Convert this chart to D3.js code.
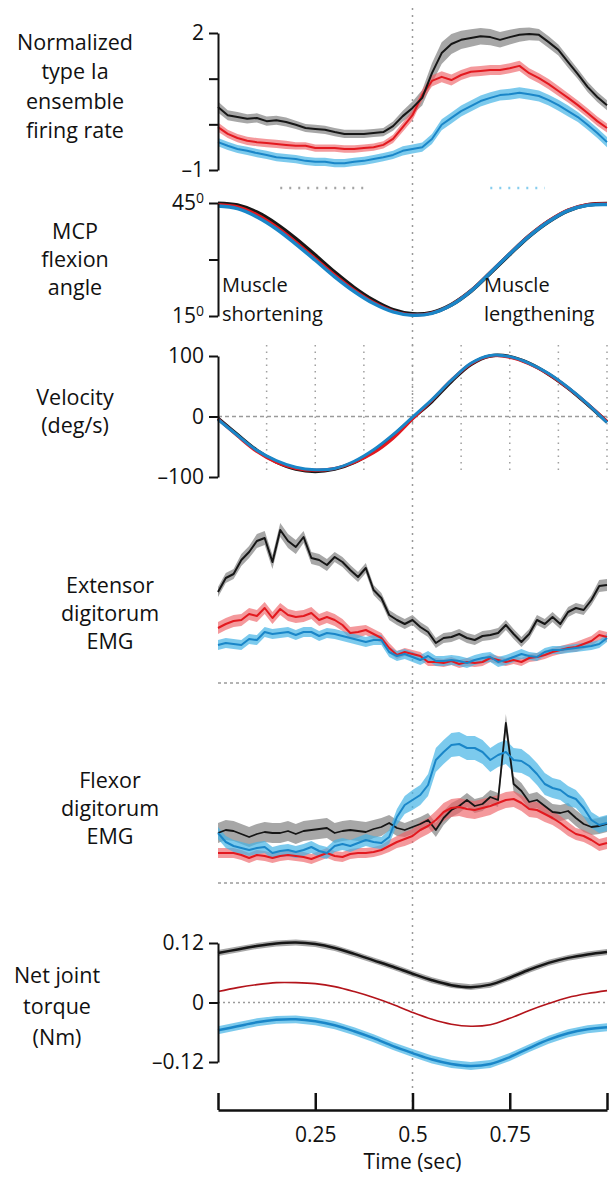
<!DOCTYPE html>
<html>
<head>
<meta charset="utf-8">
<script src="https://cdnjs.cloudflare.com/ajax/libs/d3/7.8.5/d3.min.js"></script>
<style>
  body { margin: 0; background: #fff; }
  text { font-family: "Open Sans", sans-serif; fill: #111; }
</style>
</head>
<body>
<script>
// ---------- data (time runs 0..1 s, samples evenly spaced) ----------
var frStep = 0.025;   // firing rate, 41 samples
var frBlack = [0.38,0.20,0.16,0.12,0.14,0.07,0.09,0.05,-0.01,-0.08,-0.10,-0.12,-0.17,-0.21,-0.21,-0.21,-0.19,-0.17,-0.04,0.18,0.36,0.58,1.12,1.56,1.76,1.85,1.89,1.93,1.91,1.85,1.91,1.96,1.98,1.96,1.80,1.63,1.36,1.10,0.82,0.60,0.42];
var frRed = [-0.06,-0.21,-0.30,-0.36,-0.39,-0.41,-0.43,-0.45,-0.47,-0.47,-0.52,-0.52,-0.52,-0.54,-0.54,-0.52,-0.50,-0.45,-0.32,-0.06,0.20,0.64,0.95,1.04,0.97,1.08,1.15,1.17,1.19,1.19,1.23,1.28,1.12,1.01,0.88,0.73,0.58,0.42,0.25,0.07,-0.08];
var frBlue = [-0.39,-0.47,-0.54,-0.58,-0.63,-0.67,-0.72,-0.74,-0.76,-0.80,-0.82,-0.82,-0.85,-0.85,-0.82,-0.80,-0.76,-0.72,-0.67,-0.58,-0.54,-0.50,-0.32,-0.01,0.14,0.29,0.40,0.51,0.58,0.64,0.66,0.69,0.66,0.62,0.53,0.42,0.29,0.16,-0.01,-0.19,-0.39];
var frBlackSem = [0.12,0.11,0.11,0.10,0.10,0.10,0.10,0.10,0.09,0.09,0.09,0.09,0.09,0.09,0.09,0.09,0.09,0.09,0.10,0.12,0.14,0.17,0.22,0.24,0.22,0.20,0.19,0.18,0.18,0.17,0.16,0.15,0.14,0.13,0.13,0.12,0.12,0.11,0.11,0.11,0.11];
var frRedSem = [0.10,0.09,0.09,0.09,0.09,0.09,0.09,0.09,0.08,0.08,0.08,0.08,0.08,0.08,0.08,0.08,0.08,0.08,0.09,0.10,0.11,0.12,0.12,0.12,0.12,0.11,0.11,0.11,0.11,0.11,0.11,0.11,0.11,0.11,0.11,0.11,0.10,0.10,0.10,0.10,0.10];
var frBlueSem = [0.09,0.09,0.09,0.09,0.09,0.09,0.09,0.09,0.09,0.09,0.09,0.09,0.09,0.09,0.09,0.09,0.09,0.09,0.09,0.10,0.10,0.10,0.11,0.12,0.12,0.12,0.12,0.12,0.12,0.12,0.12,0.12,0.12,0.12,0.12,0.12,0.12,0.11,0.11,0.11,0.11];
var sigBlack = [0.16, 0.39];
var sigBlue = [0.70, 0.84];

var kinStep = 0.05;   // angle, velocity, torque, 21 samples
var angBlack = [44.9,44.4,42.5,39.4,35.5,31.1,26.6,22.5,19.1,16.6,15.5,15.9,18.0,21.6,26.4,31.4,36.2,40.1,43.0,44.5,44.8];
var angRed = [44.6,44.0,41.9,38.7,34.7,30.3,25.9,21.9,18.6,16.3,15.3,15.8,18.0,21.7,26.6,31.6,36.4,40.3,43.2,44.6,44.8];
var angBlue = [44.2,43.5,41.3,38.1,34.1,29.8,25.4,21.5,18.3,16.1,15.2,15.7,17.9,21.6,26.5,31.5,36.2,40.1,43.0,44.4,44.6];

var velBlack = [-3,-30,-56,-75,-87,-91,-87,-76,-57,-32,-3,25,58,86,100,99,88,70,47,20,-9];
var velRed = [-4,-32,-58,-76,-86,-89,-86,-76,-60,-36,-4,27,60,87,100,98,87,70,47,21,-8];
var velBlue = [-5,-31,-56,-73,-84,-88,-86,-74,-55,-30,-1,28,60,88,101,99,88,71,48,21,-10];
var velGridT = [0.125,0.25,0.375,0.5,0.625,0.75,0.875,1];

var emgStep = 0.02;   // EMG, 51 samples, arbitrary units
var extBlack = [91,105,109,123,131,142,145,121,153,142,136,146,125,123,118,126,121,113,106,115,93,85,68,63,59,63,56,51,40,45,46,49,45,43,47,48,50,58,49,41,49,63,59,66,59,71,75,73,83,97,98];
var extRed = [55,59,62,63,69,67,75,65,74,68,66,67,70,63,66,63,58,50,51,53,49,45,35,28,31,29,27,21,21,20,22,19,21,20,21,25,23,21,23,21,25,26,28,31,33,35,36,39,42,48,46];
var extBlue = [38,40,39,38,44,43,51,49,50,51,48,51,51,47,50,49,47,45,43,41,43,43,31,27,29,26,23,27,22,22,23,22,20,23,25,26,21,23,26,29,27,26,31,33,33,34,35,36,37,39,45];
var extBlackSem = [5,5,5,6,6,7,7,7,7,7,7,6,6,6,6,5,5,5,5,5,5,5,5,5,5,5,5,5,5,5,5,5,5,5,5,5,5,5,5,5,5,5,5,5,5,5,5,5,5,6,6];
var extRedSem = [6,6,6,6,6,6,6,6,6,6,6,6,6,6,6,6,6,6,6,5,5,5,5,4,4,4,4,4,4,4,4,4,4,4,4,4,4,4,4,4,4,4,4,4,4,4,5,5,5,5,5];
var extBlueSem = [5,5,5,5,5,5,5,5,5,5,5,5,5,5,5,5,5,5,5,5,5,5,5,5,5,5,5,5,5,5,5,5,5,5,5,5,5,5,5,5,4,4,4,4,4,4,4,4,4,4,4];

var flxBlack = [50,53,52,49,46,49,51,50,50,52,49,52,53,54,55,50,52,53,52,51,54,56,60,55,53,56,59,63,53,65,73,77,83,77,79,86,83,160,99,92,81,83,77,71,70,72,65,59,56,57,59];
var flxRed = [30,30,30,28,25,28,27,25,27,28,27,26,24,27,30,27,26,29,30,30,31,33,37,41,44,47,53,57,63,71,75,76,74,73,75,77,80,83,84,80,74,73,69,65,60,54,49,47,43,38,40];
var flxBlue = [50,41,37,35,33,35,36,30,32,33,31,33,36,32,30,37,39,37,40,43,41,40,46,66,78,83,88,98,123,131,138,139,135,135,131,123,128,131,123,122,117,109,99,95,93,87,84,75,63,58,60];
var flxBlackSem = [10,10,10,10,10,10,10,10,10,10,10,10,10,10,10,10,10,10,10,10,9,9,8,8,7,7,7,7,7,7,7,7,7,7,7,7,7,9,8,8,8,8,8,8,8,8,8,8,8,8,8];
var flxRedSem = [5,5,5,5,5,5,5,5,5,5,5,5,5,5,5,5,5,5,5,5,5,5,6,6,7,7,8,8,9,9,9,9,9,9,9,9,8,8,8,8,8,8,8,7,7,7,6,6,6,6,6];
var flxBlueSem = [6,6,6,6,6,6,6,6,6,6,6,6,6,6,6,6,6,6,6,6,6,6,7,8,9,10,10,11,12,12,12,12,12,12,12,12,12,12,12,12,11,11,11,10,10,10,9,9,8,8,8];

var trqBlack = [0.100,0.107,0.114,0.119,0.121,0.118,0.110,0.098,0.085,0.072,0.058,0.045,0.035,0.031,0.036,0.050,0.066,0.080,0.090,0.097,0.102];
var trqRed = [0.022,0.030,0.036,0.040,0.040,0.038,0.032,0.022,0.010,-0.004,-0.020,-0.034,-0.044,-0.048,-0.045,-0.032,-0.016,-0.002,0.010,0.018,0.024];
var trqBlue = [-0.056,-0.048,-0.040,-0.035,-0.034,-0.038,-0.046,-0.058,-0.072,-0.088,-0.102,-0.115,-0.124,-0.128,-0.124,-0.110,-0.092,-0.075,-0.062,-0.054,-0.050];
var trqSem = { black: 0.006, red: 0.002, blue: 0.008 };

var xTicks = [0, 0.25, 0.5, 0.75, 1];

// ---------- setup ----------
var W = 611, H = 1178;
var svg = d3.select("body").append("svg").attr("width", W).attr("height", H);

var x = d3.scaleLinear().domain([0, 1]).range([218, 607]);

var yFr = d3.scaleLinear().domain([-1, 2]).range([170, 33]);
var yAng = d3.scaleLinear().domain([15, 45]).range([316, 203]);
var yVel = d3.scaleLinear().domain([-100, 100]).range([477, 356]);
var yExt = d3.scaleLinear().domain([0, 150]).range([683, 533]);
var yFlx = d3.scaleLinear().domain([0, 150]).range([883, 733]);
var yTrq = d3.scaleLinear().domain([-0.12, 0.12]).range([1062, 943]);

var TICK_FONT = 21, TITLE_FONT = 21.5;

var C = {
  black: { line: "#161616", band: "#8a8a8a", op: 0.75 },
  red:   { line: "#e3191f", band: "#ee6367", op: 0.65 },
  blue:  { line: "#1a86c8", band: "#45b4e6", op: 0.7 }
};

var grid = svg.append("g");
var bands = svg.append("g");
var lines = svg.append("g");
var axes = svg.append("g");

function toPts(vals, step, sem) {
  return vals.map(function(v, i) {
    var s = sem == null ? 0 : (typeof sem === "number" ? sem : sem[i]);
    return { t: i * step, v: v, s: s };
  });
}

function band(y, vals, step, sem, col) {
  var area = d3.area()
    .x(function(d) { return x(d.t); })
    .y0(function(d) { return y(d.v - d.s); })
    .y1(function(d) { return y(d.v + d.s); });
  bands.append("path").datum(toPts(vals, step, sem))
    .attr("d", area)
    .attr("fill", col.band)
    .attr("opacity", col.op);
}

function trace(y, vals, step, color, width, curve) {
  var line = d3.line()
    .x(function(d) { return x(d.t); })
    .y(function(d) { return y(d.v); });
  if (curve) line.curve(curve);
  lines.append("path").datum(toPts(vals, step))
    .attr("d", line)
    .attr("fill", "none")
    .attr("stroke", color)
    .attr("stroke-width", width)
    .attr("stroke-linejoin", "round");
}

function yAxis(y, ticks, labels) {
  var g = axes.append("g").attr("transform", "translate(218,0)")
    .call(d3.axisLeft(y).tickValues(ticks).tickSizeInner(9).tickSizeOuter(0).tickPadding(5)
      .tickFormat(function(d) { return labels[ticks.indexOf(d)]; }));
  g.select(".domain").attr("stroke", "#111").attr("stroke-width", 2);
  g.selectAll(".tick line").attr("stroke", "#111").attr("stroke-width", 2);
  g.selectAll(".tick text").attr("font-size", TICK_FONT).attr("font-family", "Open Sans").attr("fill", "#111");
  return g;
}

function title(lines_, cx, cy0, gap) {
  lines_.forEach(function(s, i) {
    axes.append("text").attr("x", cx).attr("y", cy0 + i * gap).attr("dy", "0.35em")
      .attr("text-anchor", "middle").attr("font-size", TITLE_FONT).text(s);
  });
}

function hDots(y, dash) {
  grid.append("line").attr("x1", x(0)).attr("x2", x(1)).attr("y1", y).attr("y2", y)
    .attr("stroke", "#9a9a9a").attr("stroke-width", 1.3).attr("stroke-dasharray", dash || "3,3");
}

// ---------- grid / reference lines ----------
velGridT.forEach(function(t) {
  grid.append("line").attr("x1", x(t)).attr("x2", x(t)).attr("y1", 345).attr("y2", 475)
    .attr("stroke", "#a0a0a0").attr("stroke-width", 1.5).attr("stroke-dasharray", "1.5,5");
});
hDots(yVel(0), "4,3");
hDots(yExt(0));
hDots(yFlx(0));
hDots(yTrq(0), "2,3");
grid.append("line").attr("x1", x(0.5)).attr("x2", x(0.5)).attr("y1", 8).attr("y2", 1110)
  .attr("stroke", "#999").attr("stroke-width", 1.5).attr("stroke-dasharray", "2,5");

// significance markers
[[sigBlack, "#a4a4a4"], [sigBlue, "#86cdee"]].forEach(function(s) {
  grid.append("line").attr("x1", x(s[0][0])).attr("x2", x(s[0][1])).attr("y1", 188).attr("y2", 188)
    .attr("stroke", s[1]).attr("stroke-width", 2.5).attr("stroke-dasharray", "2,7");
});

// ---------- panel 1: firing rate ----------
band(yFr, frBlack, frStep, frBlackSem, C.black);
band(yFr, frRed, frStep, frRedSem, C.red);
band(yFr, frBlue, frStep, frBlueSem, C.blue);
trace(yFr, frBlue, frStep, C.blue.line, 2);
trace(yFr, frRed, frStep, C.red.line, 2);
trace(yFr, frBlack, frStep, C.black.line, 2);
yAxis(yFr, [2, 1, 0, -1], ["2", "", "", "\u20131"]);
title(["Normalized", "type Ia", "ensemble", "firing rate"], 75, 42, 29.5);

// ---------- panel 2: MCP angle ----------
trace(yAng, angBlack, kinStep, C.black.line, 4, d3.curveCatmullRom);
trace(yAng, angRed, kinStep, C.red.line, 3, d3.curveCatmullRom);
trace(yAng, angBlue, kinStep, C.blue.line, 3.5, d3.curveCatmullRom);
var ga = yAxis(yAng, [45, 30, 15], ["45", "", "15"]);
ga.selectAll(".tick text").filter(function(d) { return d !== 30; })
  .append("tspan").attr("dy", "-0.5em").attr("font-size", 14).text("0");
title(["MCP", "flexion", "angle"], 75, 231, 28);
axes.append("text").attr("x", 222).attr("y", 285).attr("dy", "0.35em").attr("font-size", 20).text("Muscle");
axes.append("text").attr("x", 222).attr("y", 314).attr("dy", "0.35em").attr("font-size", 20).text("shortening");
axes.append("text").attr("x", 484).attr("y", 285).attr("dy", "0.35em").attr("font-size", 20).text("Muscle");
axes.append("text").attr("x", 484).attr("y", 314).attr("dy", "0.35em").attr("font-size", 20).text("lengthening");

// ---------- panel 3: velocity ----------
trace(yVel, velBlack, kinStep, C.black.line, 3.5, d3.curveCatmullRom);
trace(yVel, velRed, kinStep, C.red.line, 3, d3.curveCatmullRom);
trace(yVel, velBlue, kinStep, C.blue.line, 3, d3.curveCatmullRom);
yAxis(yVel, [100, 0, -100], ["100", "0", "\u2013100"]);
title(["Velocity", "(deg/s)"], 75, 397, 28);

// ---------- panel 4: extensor EMG ----------
band(yExt, extBlack, emgStep, extBlackSem, C.black);
band(yExt, extRed, emgStep, extRedSem, C.red);
band(yExt, extBlue, emgStep, extBlueSem, C.blue);
trace(yExt, extBlack, emgStep, C.black.line, 2);
trace(yExt, extRed, emgStep, C.red.line, 2);
trace(yExt, extBlue, emgStep, C.blue.line, 2);
title(["Extensor", "digitorum", "EMG"], 110, 585, 28);

// ---------- panel 5: flexor EMG ----------
band(yFlx, flxBlack, emgStep, flxBlackSem, C.black);
band(yFlx, flxRed, emgStep, flxRedSem, C.red);
band(yFlx, flxBlue, emgStep, flxBlueSem, C.blue);
trace(yFlx, flxBlack, emgStep, C.black.line, 1.8);
trace(yFlx, flxRed, emgStep, C.red.line, 2);
trace(yFlx, flxBlue, emgStep, C.blue.line, 2);
title(["Flexor", "digitorum", "EMG"], 110, 780, 28);

// ---------- panel 6: torque ----------
band(yTrq, trqBlack, kinStep, trqSem.black, C.black);
band(yTrq, trqBlue, kinStep, trqSem.blue, C.blue);
trace(yTrq, trqBlack, kinStep, C.black.line, 2.5, d3.curveCatmullRom);
trace(yTrq, trqRed, kinStep, "#b3141b", 1.6, d3.curveCatmullRom);
trace(yTrq, trqBlue, kinStep, C.blue.line, 2.5, d3.curveCatmullRom);
yAxis(yTrq, [0.12, 0, -0.12], ["0.12", "0", "\u20130.12"]);
title(["Net joint", "torque", "(Nm)"], 57, 975, 31);

// ---------- time axis ----------
var gx = axes.append("g").attr("transform", "translate(0,1110)")
  .call(d3.axisBottom(x).tickValues(xTicks).tickSizeInner(-17).tickSizeOuter(0).tickPadding(17)
    .tickFormat(function(d) { return (d === 0 || d === 1) ? "" : String(d); }));
gx.select(".domain").attr("stroke", "#111").attr("stroke-width", 2.5);
gx.selectAll(".tick line").attr("stroke", "#111").attr("stroke-width", 2.5);
gx.selectAll(".tick text").attr("font-size", TICK_FONT).attr("font-family", "Open Sans").attr("fill", "#111");
axes.append("text").attr("x", x(0.5)).attr("y", 1162).attr("dy", "0.35em")
  .attr("text-anchor", "middle").attr("font-size", 21).text("Time (sec)");
</script>
</body>
</html>
